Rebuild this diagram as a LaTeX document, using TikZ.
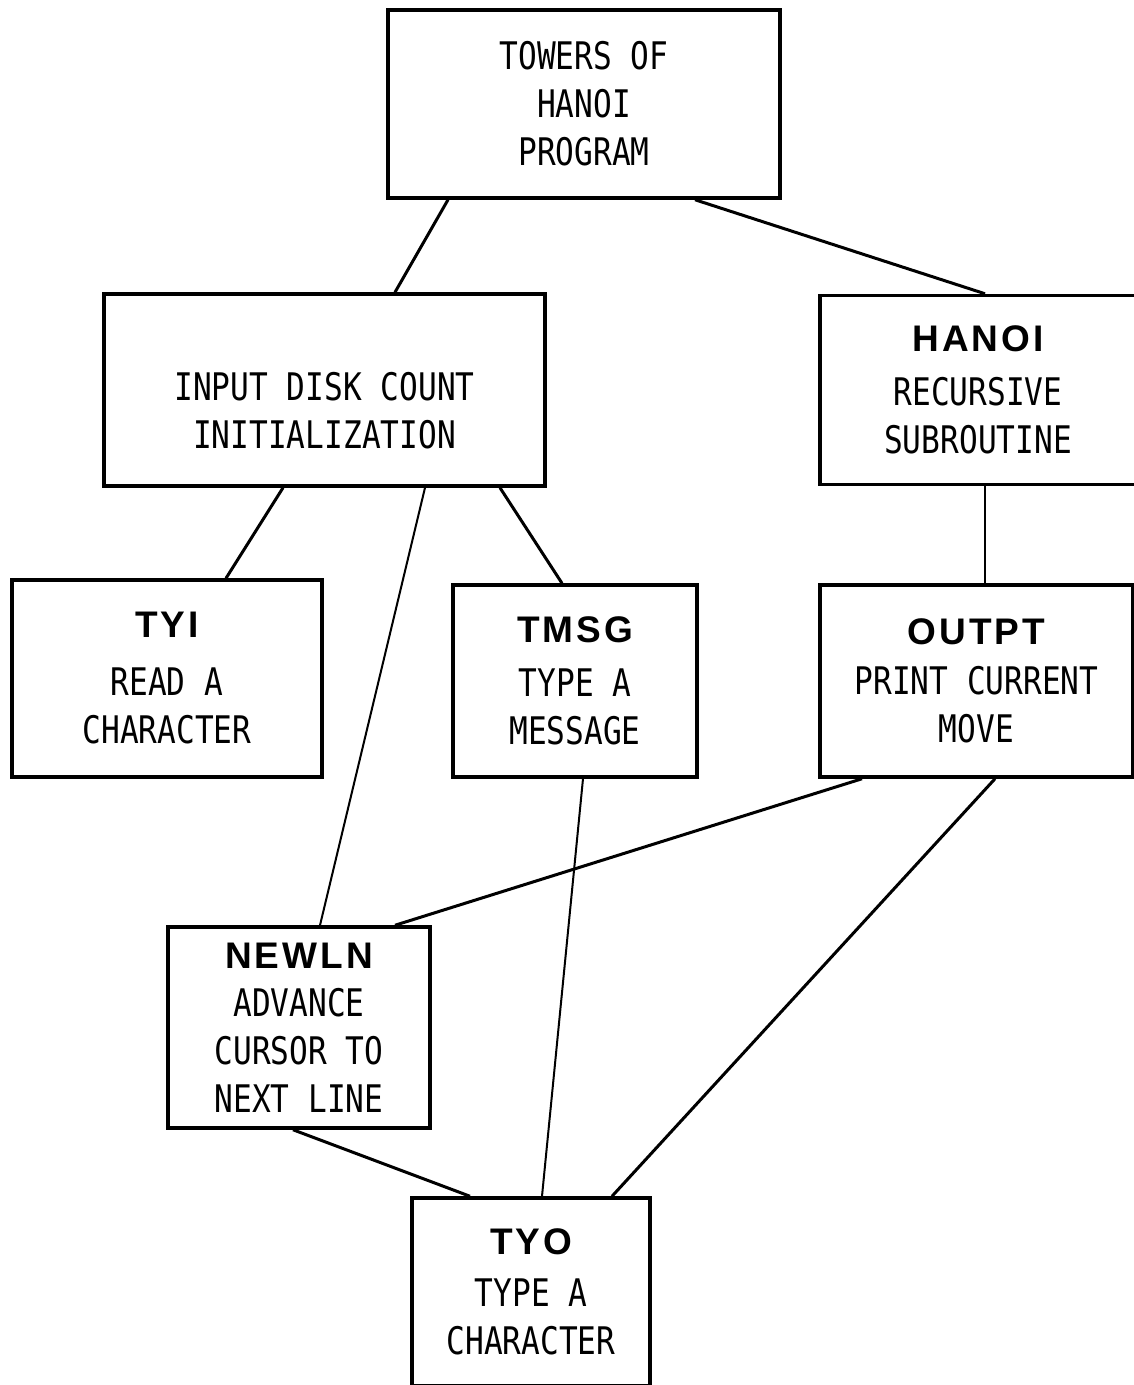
\documentclass[tikz,border=0pt]{standalone}
\usepackage{fontspec}
\newfontfamily\plotfont[FakeStretch=0.82]{DejaVu Sans Mono}
\newfontfamily\headfont[LetterSpace=8]{Liberation Sans}
\newcommand{\head}[1]{{\headfont\bfseries\fontsize{37}{42}\selectfont #1}}

\begin{document}
\begin{tikzpicture}[x=1pt,y=-1pt,
    box/.style={draw, line width=3.5pt, rectangle, align=center, inner sep=0pt,
        font=\plotfont\fontsize{38}{48}\selectfont},
    conn/.style={line width=3pt},
    thinconn/.style={line width=2pt}]
                \useasboundingbox (0,0) rectangle (1134,1385);

                % Draw boxes
                \node[box, minimum width=392, minimum height=188] (prog) at (584,104) {TOWERS OF\\HANOI\\PROGRAM};
                \node[box, minimum width=441, minimum height=192] (init) at (324.5,390) {\strut\\[-12pt]INPUT DISK COUNT\\INITIALIZATION};
                \node[box, minimum width=316, minimum height=189] (hanoi) at (978,390) {\head{HANOI}\\[6pt]RECURSIVE\\SUBROUTINE};
                \node[box, minimum width=310, minimum height=197] (tyi) at (167,678.5) {\head{TYI}\\[10pt]READ A\\CHARACTER};
                \node[box, minimum width=244, minimum height=192] (tmsg) at (575,681) {\head{TMSG}\\[6pt]TYPE A\\MESSAGE};
                \node[box, minimum width=313, minimum height=192] (outpt) at (976.5,681) {\head{OUTPT}\\[2pt]PRINT CURRENT\\MOVE};
                \node[box, minimum width=262, minimum height=201] (newln) at (299,1027.5) {\head{NEWLN}\\ADVANCE\\CURSOR TO\\NEXT LINE};
                \node[box, minimum width=238, minimum height=188] (tyo) at (531,1292) {\head{TYO}\\[4pt]TYPE A\\CHARACTER};

                % Draw connectors
                \draw[conn] ([xshift=-136pt]prog.south) -- ([xshift=70.5pt]init.north);
                \draw[conn] ([xshift=111pt]prog.south) -- ([xshift=7pt]hanoi.north);
                \draw[conn] ([xshift=-41.5pt]init.south) -- ([xshift=59pt]tyi.north);
                \draw[thinconn] ([xshift=100.5pt]init.south) -- ([xshift=21pt]newln.north);
                \draw[conn] ([xshift=175.5pt]init.south) -- ([xshift=-13pt]tmsg.north);
                \draw[thinconn] ([xshift=7pt]hanoi.south) -- ([xshift=8.5pt]outpt.north);
                \draw[conn] ([xshift=-114.5pt]outpt.south) -- ([xshift=96pt]newln.north);
                \draw[conn] ([xshift=18.5pt]outpt.south) -- ([xshift=81pt]tyo.north);
                \draw[thinconn] ([xshift=8pt]tmsg.south) -- ([xshift=11pt]tyo.north);
                \draw[conn] ([xshift=-6pt]newln.south) -- ([xshift=-61pt]tyo.north);
            \end{tikzpicture}
\end{document}
